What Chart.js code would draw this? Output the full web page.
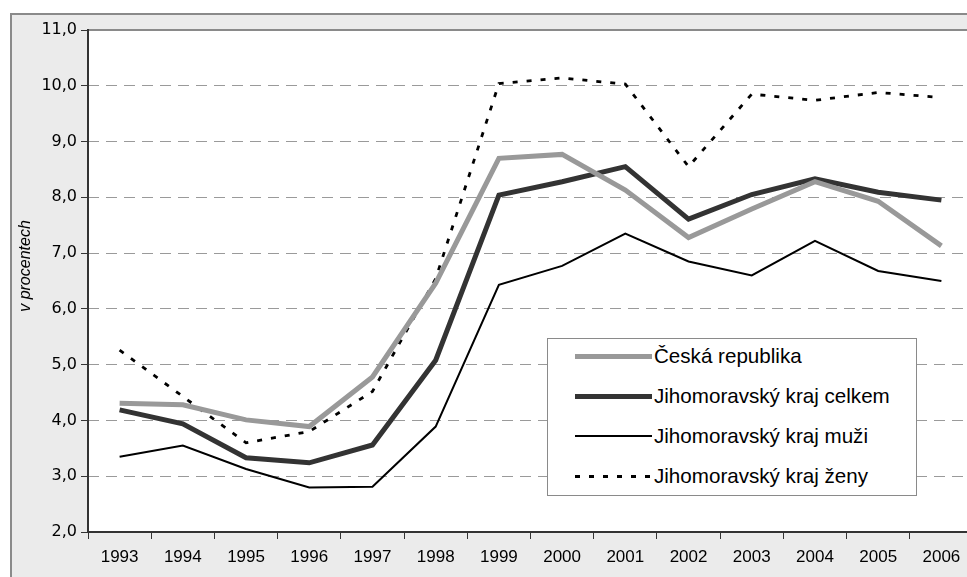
<!DOCTYPE html>
<html>
<head>
<meta charset="utf-8">
<script src="https://cdn.jsdelivr.net/npm/chart.js@4"></script>
<style>
  body { margin: 0; overflow: hidden; background: #fff; width: 967px; height: 577px; }
  #frame { position: absolute; left: 10px; top: 13px; width: 1000px; height: 600px;
           border-left: 2px solid #8a8a8a; border-top: 2px solid #8a8a8a; background: #ebebeb; }
  #chart { position: absolute; left: 0; top: 0; }
  #legend { position: absolute; left: 547px; top: 338px; width: 368px; height: 156px;
            border: 1px solid #8a8a8a; background: #fff; font-family: "Liberation Sans", Arial, sans-serif; }
  .row { position: absolute; left: 27px; height: 24px; display: flex; align-items: center; }
  .swatch { width: 77px; height: 0; margin-right: 2px; }
  .txt { font-size: 20.6px; color: #000; white-space: nowrap; }
</style>
</head>
<body>
<div id="frame"></div>
<canvas id="chart" width="980" height="577"></canvas>
<div id="legend"></div>
<script>
// roky
const years = ['1993','1994','1995','1996','1997','1998','1999','2000','2001','2002','2003','2004','2005','2006'];
// hodnoty v procentech
const ceskaRepublika = [4.31, 4.28, 4.01, 3.89, 4.78, 6.46, 8.70, 8.77, 8.13, 7.28, 7.79, 8.28, 7.93, 7.13];
const jmkCelkem      = [4.19, 3.94, 3.33, 3.24, 3.56, 5.08, 8.04, 8.28, 8.55, 7.61, 8.05, 8.33, 8.09, 7.95];
const jmkMuzi        = [3.35, 3.55, 3.13, 2.80, 2.81, 3.89, 6.43, 6.77, 7.35, 6.85, 6.60, 7.22, 6.68, 6.50];
const jmkZeny        = [5.26, 4.43, 3.60, 3.80, 4.52, 6.54, 10.04, 10.14, 10.03, 8.55, 9.85, 9.74, 9.88, 9.79];
const seriesNames = ['Česká republika', 'Jihomoravský kraj celkem', 'Jihomoravský kraj muži', 'Jihomoravský kraj ženy'];
const yMin = 2, yMax = 11, yStep = 1;
const yTitle = 'v procentech';

const datasets = [
  { label: seriesNames[0], data: ceskaRepublika, borderColor: '#999999', borderWidth: 5, borderDash: [] },
  { label: seriesNames[1], data: jmkCelkem, borderColor: '#333333', borderWidth: 5, borderDash: [] },
  { label: seriesNames[2], data: jmkMuzi, borderColor: '#000000', borderWidth: 2, borderDash: [] },
  { label: seriesNames[3], data: jmkZeny, borderColor: '#000000', borderWidth: 2.8, borderDash: [5, 9] }
].map(d => Object.assign(d, { pointRadius: 0, tension: 0, fill: false, borderCapStyle: 'butt', borderJoinStyle: 'miter' }));

// bile pozadi grafu, horni sedy okraj, osa y a popisek osy
const plotArea = {
  id: 'plotArea',
  beforeDraw(chart) {
    const { ctx, chartArea: a } = chart;
    ctx.save();
    ctx.fillStyle = '#ffffff';
    ctx.fillRect(a.left, a.top, a.right - a.left, a.bottom - a.top);
    ctx.strokeStyle = '#8a8a8a';
    ctx.lineWidth = 2;
    ctx.beginPath();
    ctx.moveTo(a.left, a.top);
    ctx.lineTo(chart.width, a.top);
    ctx.stroke();
    ctx.restore();
  },
  afterDatasetsDraw(chart) {
    const { ctx, chartArea: a } = chart;
    ctx.save();
    ctx.strokeStyle = '#333';
    ctx.lineWidth = 2;
    ctx.beginPath();
    ctx.moveTo(a.left, a.top - 1);
    ctx.lineTo(a.left, a.bottom);
    ctx.stroke();
    // popisek osy y
    ctx.translate(26, (a.top + a.bottom) / 2 - 15);
    ctx.rotate(-Math.PI / 2);
    ctx.fillStyle = '#000';
    ctx.font = 'italic 16px "Liberation Sans", Arial';
    ctx.textAlign = 'center';
    ctx.textBaseline = 'middle';
    ctx.fillText(yTitle, 0, 0);
    ctx.restore();
  }
};

new Chart(document.getElementById('chart'), {
  type: 'line',
  data: { labels: years, datasets: datasets },
  plugins: [plotArea],
  options: {
    responsive: false,
    animation: false,
    layout: { padding: { top: 30, left: 0, right: 7, bottom: 0 } },
    plugins: { legend: { display: false }, tooltip: { enabled: false } },
    scales: {
      x: {
        offset: true,
        afterFit(s) { s.height = 45; },
        grid: { display: true, offset: true, drawOnChartArea: false, drawTicks: true, tickLength: 7, tickColor: '#333' },
        border: { color: '#333', width: 2 },
        ticks: { color: '#000', padding: 8, maxRotation: 0, font: { family: 'Liberation Sans, Arial', size: 17 } }
      },
      y: {
        min: yMin, max: yMax,
        afterFit(s) { s.width = 88; },
        grid: {
          color: c => (c.tick && c.tick.value === yMax) ? 'rgba(0,0,0,0)' : '#9a9a9a',
          lineWidth: 1, drawTicks: true, tickLength: 7, tickColor: '#333'
        },
        border: { display: false, dash: [11, 7] },
        ticks: {
          stepSize: yStep, color: '#000', padding: 4,
          font: { family: 'DejaVu Sans', size: 16 },
          callback: v => v.toFixed(1).replace('.', ',')
        }
      }
    }
  }
});

// legenda uvnitr grafu
const legend = document.getElementById('legend');
datasets.forEach((d, i) => {
  const row = document.createElement('div');
  row.className = 'row';
  row.style.top = (5 + i * 40) + 'px';
  const sw = document.createElement('div');
  sw.className = 'swatch';
  sw.style.borderTop = d.borderWidth + 'px solid ' + d.borderColor;
  if (d.borderDash.length) {
    sw.style.borderTop = 'none';
    sw.style.height = '3px';
    sw.style.background = 'repeating-linear-gradient(to right, ' + d.borderColor + ' 0 5px, transparent 5px 14px)';
  }
  const tx = document.createElement('div');
  tx.className = 'txt';
  tx.textContent = d.label;
  row.appendChild(sw);
  row.appendChild(tx);
  legend.appendChild(row);
});
</script>
</body>
</html>
